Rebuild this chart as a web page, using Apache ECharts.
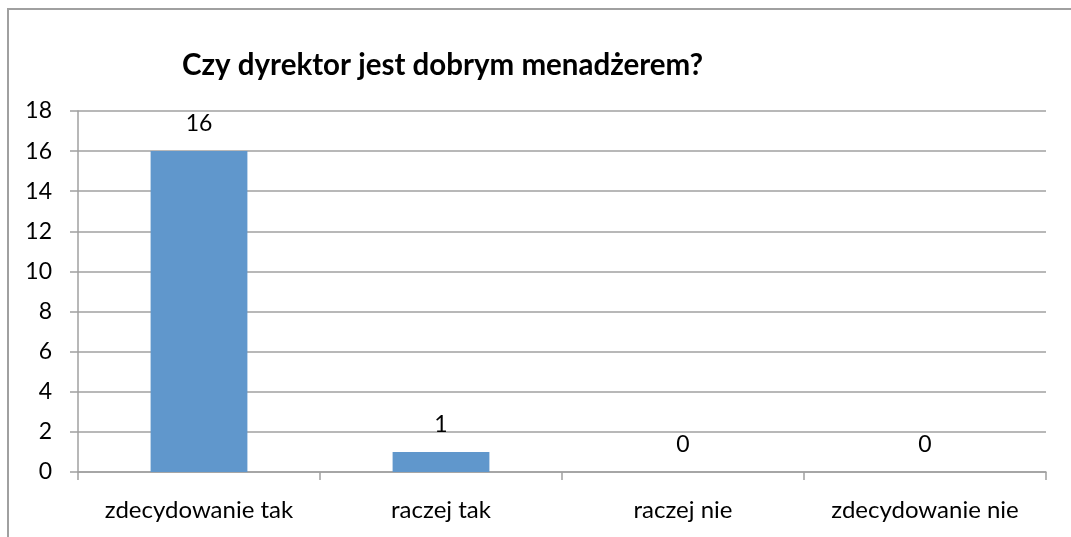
<!DOCTYPE html>
<html><head><meta charset="utf-8">
<script src="https://cdn.jsdelivr.net/npm/echarts@6/dist/echarts.min.js"></script>
<style>html,body{margin:0;padding:0;background:#fff}#c{width:1071px;height:537px}</style>
</head><body><div id="c"></div>
<script>
const categories = ['zdecydowanie tak', 'raczej tak', 'raczej nie', 'zdecydowanie nie'];
const values = [16, 1, 0, 0];
const titleText = 'Czy dyrektor jest dobrym menadżerem?';

const chart = echarts.init(document.getElementById('c'), null, {renderer: 'canvas'});
const font = 'Lato, "Open Sans", sans-serif';
chart.setOption({
  animation: false,
  backgroundColor: '#fff',
  graphic: [{
    type: 'rect', shape: {x: 8, y: 9, width: 1100, height: 600},
    style: {fill: 'none', stroke: '#a0a0a0', lineWidth: 2}, silent: true
  }],
  title: {
    text: titleText, left: 177, top: 45,
    textStyle: {fontFamily: font, fontWeight: 'bold', fontSize: 29.5, color: '#000'}
  },
  grid: {left: 78, right: 25, top: 111, bottom: 65, containLabel: false},
  xAxis: {
    type: 'category', data: categories,
    axisLine: {lineStyle: {color: '#a0a0a0', width: 1.5}},
    axisTick: {show: true, length: 8, alignWithLabel: false, lineStyle: {color: '#a0a0a0', width: 1.5}},
    axisLabel: {interval: 0, fontFamily: font, fontSize: 24, color: '#000', margin: 26}
  },
  yAxis: {
    type: 'value', min: 0, max: 18, interval: 2,
    axisLine: {show: true, lineStyle: {color: '#a0a0a0', width: 1.5}},
    axisTick: {show: true, length: 8, lineStyle: {color: '#a0a0a0', width: 1.5}},
    splitLine: {lineStyle: {color: '#a0a0a0', width: 1.5}},
    axisLabel: {fontFamily: font, fontSize: 23, color: '#000', margin: 26}
  },
  series: [{
    type: 'bar', data: values, barWidth: '40%',
    itemStyle: {color: '#6097cc'},
    label: {show: true, position: 'top', distance: 16, fontFamily: font, fontSize: 23, color: '#000'}
  }]
});
</script></body></html>
